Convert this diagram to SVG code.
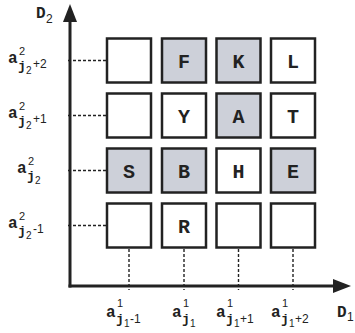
<svg xmlns="http://www.w3.org/2000/svg" width="355" height="333" viewBox="0 0 355 333">
<style>
.box{fill:#fff;stroke:#222;stroke-width:2.5}
.g{fill:#cdd0d9}
.lt{font-family:"Liberation Mono",monospace;font-weight:bold;font-size:20px;fill:#222;text-anchor:middle}
.m{font-family:"Liberation Mono",monospace;font-weight:bold;font-size:16px;fill:#222}
.mj{font-family:"Liberation Mono",monospace;font-weight:bold;font-size:13px;fill:#222}
.s{font-family:"Liberation Sans",Arial,sans-serif;font-size:12px;fill:#222}
.sp{font-family:"Liberation Sans",Arial,sans-serif;font-size:11px;fill:#222}
.ss{font-family:"Liberation Sans",Arial,sans-serif;font-size:10px;fill:#222}
.ax{stroke:#222;stroke-width:3;fill:none}
.dot{stroke:#222;stroke-width:1.4;stroke-dasharray:3 2;fill:none}
</style>
<g id="connectors">
<line class="ax" x1="70" y1="287.5" x2="70" y2="20"/>
<line class="ax" x1="68.5" y1="286" x2="334" y2="286"/>
<polygon points="70,4 63,22 77,22" fill="#222"/>
<polygon points="351,286 333,279 333,293" fill="#222"/>
<line class="dot" x1="68" y1="60.5" x2="106" y2="60.5"/>
<line class="dot" x1="68" y1="115.5" x2="106" y2="115.5"/>
<line class="dot" x1="68" y1="170.5" x2="106" y2="170.5"/>
<line class="dot" x1="68" y1="225.5" x2="106" y2="225.5"/>
<line class="dot" x1="129" y1="249" x2="129" y2="290"/>
<line class="dot" x1="184" y1="249" x2="184" y2="290"/>
<line class="dot" x1="238.5" y1="249" x2="238.5" y2="290"/>
<line class="dot" x1="293" y1="249" x2="293" y2="290"/>
</g>
<g id="r1c1"><rect class="box" x="107" y="38.5" width="44" height="44"/></g>
<g id="F"><rect class="box g" x="162" y="38.5" width="44" height="44"/><text class="lt" x="184" y="67.5">F</text></g>
<g id="K"><rect class="box g" x="216.5" y="38.5" width="44" height="44"/><text class="lt" x="238.5" y="67.5">K</text></g>
<g id="L"><rect class="box" x="271" y="38.5" width="44" height="44"/><text class="lt" x="293" y="67.5">L</text></g>
<g id="r2c1"><rect class="box" x="107" y="93.5" width="44" height="44"/></g>
<g id="Y"><rect class="box" x="162" y="93.5" width="44" height="44"/><text class="lt" x="184" y="122.5">Y</text></g>
<g id="A"><rect class="box g" x="216.5" y="93.5" width="44" height="44"/><text class="lt" x="238.5" y="122.5">A</text></g>
<g id="T"><rect class="box" x="271" y="93.5" width="44" height="44"/><text class="lt" x="293" y="122.5">T</text></g>
<g id="S"><rect class="box g" x="107" y="148.5" width="44" height="44"/><text class="lt" x="129" y="177.5">S</text></g>
<g id="B"><rect class="box g" x="162" y="148.5" width="44" height="44"/><text class="lt" x="184" y="177.5">B</text></g>
<g id="H"><rect class="box" x="216.5" y="148.5" width="44" height="44"/><text class="lt" x="238.5" y="177.5">H</text></g>
<g id="E"><rect class="box g" x="271" y="148.5" width="44" height="44"/><text class="lt" x="293" y="177.5">E</text></g>
<g id="r4c1"><rect class="box" x="107" y="203.5" width="44" height="44"/></g>
<g id="R"><rect class="box" x="162" y="203.5" width="44" height="44"/><text class="lt" x="184" y="232.5">R</text></g>
<g id="r4c3"><rect class="box" x="216.5" y="203.5" width="44" height="44"/></g>
<g id="r4c4"><rect class="box" x="271" y="203.5" width="44" height="44"/></g>
<g id="D2"><text class="m" x="36" y="18">D</text><text class="s" x="46" y="23">2</text></g>
<g id="D1"><text class="m" x="337" y="317">D</text><text class="s" x="347" y="321">1</text></g>
<g id="row1"><text class="m" x="8" y="63">a</text><text class="sp" x="19" y="55">2</text><text class="mj" x="18" y="70">j</text><text class="ss" x="26" y="74">2</text><text class="s" x="33" y="68">+2</text></g>
<g id="row2"><text class="m" x="8" y="118">a</text><text class="sp" x="19" y="110">2</text><text class="mj" x="18" y="125">j</text><text class="ss" x="26" y="129">2</text><text class="s" x="33" y="123">+1</text></g>
<g id="row3"><text class="m" x="17" y="173">a</text><text class="sp" x="28" y="165">2</text><text class="mj" x="27" y="180">j</text><text class="ss" x="35" y="184">2</text></g>
<g id="row4"><text class="m" x="8" y="228">a</text><text class="sp" x="19" y="220">2</text><text class="mj" x="18" y="235">j</text><text class="ss" x="26" y="239">2</text><text class="s" x="33" y="233">-1</text></g>
<g id="col1"><text class="m" x="106" y="317">a</text><text class="sp" x="117" y="307">1</text><text class="mj" x="116" y="323">j</text><text class="ss" x="124" y="327">1</text><text class="s" x="130" y="323">-1</text></g>
<g id="col2"><text class="m" x="172" y="317">a</text><text class="sp" x="183" y="307">1</text><text class="mj" x="182" y="323">j</text><text class="ss" x="190" y="327">1</text></g>
<g id="col3"><text class="m" x="216" y="317">a</text><text class="sp" x="227" y="307">1</text><text class="mj" x="226" y="323">j</text><text class="ss" x="234" y="327">1</text><text class="s" x="240" y="323">+1</text></g>
<g id="col4"><text class="m" x="271" y="317">a</text><text class="sp" x="282" y="307">1</text><text class="mj" x="281" y="323">j</text><text class="ss" x="289" y="327">1</text><text class="s" x="295" y="323">+2</text></g>
</svg>
